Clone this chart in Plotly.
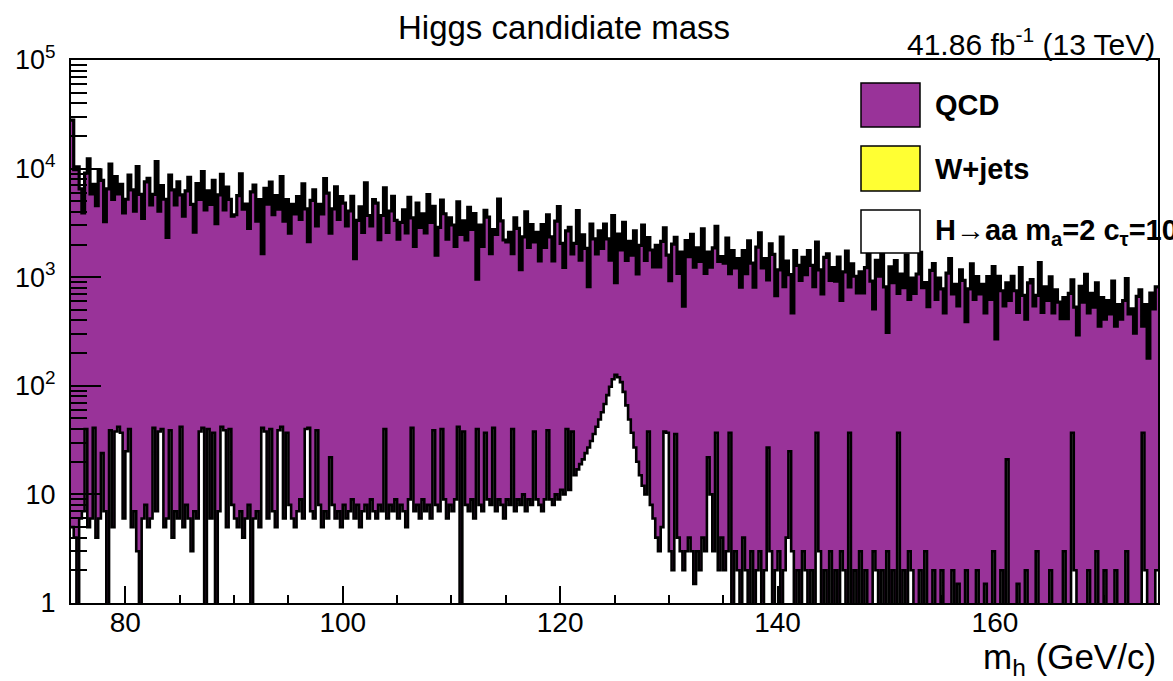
import numpy as np
import plotly.graph_objects as go

# ---------------- data ----------------
BIN_LO, BIN_HI, N_BINS = 75.0, 175.0, 400   # 0.25 GeV bins

qcd = [
    28000, 9800, 10400, 6500, 3900, 9100, 12300, 5850, 7150, 4550, 9750, 7800, 3250, 6500, 11000, 5200, 8450, 5850, 7150, 3900,
    5220, 8700, 6380, 4060, 10440, 5800, 3480, 7540, 8120, 4640, 5800, 11600, 4060, 6960, 5220, 2320, 8700, 6380, 4640, 7540,
    5720, 3640, 6240, 8320, 4680, 2600, 7280, 5200, 9360, 4160, 6240, 4680, 7800, 3120, 5720, 8840, 4160, 6760, 5200, 3640,
    3760, 5640, 8930, 4230, 4700, 2820, 6110, 7050, 3290, 5170, 1645, 6580, 4700, 7520, 3760, 5640, 4230, 8460, 3290, 5170,
    2550, 4675, 3825, 5525, 3400, 7225, 4250, 2125, 5100, 6375, 2975, 4675, 3825, 8075, 5950, 2550, 4250, 6800, 3400, 5525,
    4810, 2960, 4070, 5550, 1480, 3330, 4440, 2590, 7400, 3700, 2960, 5180, 4810, 2220, 3700, 6660, 2590, 4070, 5550, 3330,
    2240, 3200, 4160, 2560, 5440, 3520, 1920, 4800, 2880, 3840, 2560, 5760, 3200, 4480, 1600, 2880, 5120, 3840, 2240, 3520,
    3025, 1925, 4950, 2475, 3300, 2200, 4400, 2750, 3850, 960, 3025, 1925, 4125, 3575, 1650, 2750, 2475, 5225, 3300, 2200,
    2115, 2585, 1645, 3525, 2820, 1175, 2350, 3995, 1880, 3055, 2115, 2585, 1410, 3055, 1880, 3760, 2350, 1410, 3290, 4465,
    2050, 1230, 2665, 2870, 1640, 2050, 4100, 1435, 2460, 1845, 820, 3075, 2255, 1640, 2665, 1845, 3075, 2255, 1435, 3690,
    890, 2490, 1780, 3200, 1425, 2135, 1600, 2670, 1070, 1960, 3025, 1425, 2315, 1780, 1245, 1960, 1245, 2135, 2850, 1600,
    930, 2015, 2325, 1085, 1705, 540, 2170, 1550, 2480, 1240, 1860, 1395, 2790, 1085, 1705, 1240, 1860, 2945, 1395, 1550,
    1350, 2295, 1080, 1755, 1215, 1485, 810, 1755, 1080, 2160, 1350, 810, 1890, 2565, 1215, 1485, 945, 2025, 1620, 675,
    1170, 2340, 820, 1405, 1055, 470, 1755, 1285, 935, 1520, 1055, 1755, 1285, 820, 2105, 1170, 700, 1520, 1640, 935,
    1225, 920, 1530, 610, 1120, 1735, 815, 1325, 1020, 715, 1120, 715, 1225, 1630, 920, 510, 1430, 1020, 1835, 815,
    310, 1245, 890, 1425, 710, 1070, 800, 1600, 625, 980, 710, 1070, 1690, 800, 890, 535, 1155, 1335, 625, 980,
    780, 470, 1090, 1480, 700, 860, 545, 1170, 935, 390, 780, 1325, 625, 1015, 700, 860, 470, 1015, 625, 1250,
    270, 1020, 750, 545, 885, 610, 1020, 750, 475, 1225, 680, 410, 885, 950, 545, 680, 1360, 475, 815, 610,
    1005, 470, 765, 590, 415, 650, 415, 710, 945, 530, 295, 825, 590, 1060, 470, 710, 530, 885, 355, 650,
    410, 610, 460, 920, 355, 560, 410, 610, 970, 460, 510, 305, 665, 765, 355, 560, 180, 715, 510, 815,
]

signal = [
    5, 4, 0, 6, 7, 40, 5, 6, 41, 4, 6, 24, 7, 0, 39, 5, 38, 42, 37, 6,
    25, 40, 5, 7, 3, 0, 6, 8, 5, 6, 41, 7, 38, 40, 5, 6, 39, 4, 7, 6,
    42, 5, 8, 6, 3, 7, 6, 38, 41, 0, 40, 6, 37, 0, 7, 42, 39, 5, 40, 8,
    6, 5, 7, 4, 6, 8, 0, 6, 7, 5, 41, 38, 6, 40, 7, 5, 39, 42, 6, 37,
    8, 6, 5, 7, 9, 6, 40, 41, 7, 6, 39, 8, 5, 7, 6, 22, 8, 6, 7, 5,
    8, 6, 7, 9, 6, 8, 5, 7, 8, 6, 9, 7, 6, 8, 7, 40, 6, 8, 7, 9,
    6, 8, 7, 5, 9, 41, 7, 8, 6, 9, 7, 8, 6, 39, 8, 7, 40, 9, 6, 8,
    7, 9, 42, 0, 38, 8, 7, 9, 6, 40, 8, 7, 37, 9, 8, 41, 7, 9, 8, 6,
    9, 8, 40, 7, 9, 8, 10, 7, 9, 8, 38, 9,
    # 118 - 130 GeV : Higgs peak
    8, 7, 9, 39, 9, 8, 10, 9, 11, 10, 40, 11, 38, 15, 17, 19,
    21, 24, 27, 31, 36, 42, 49, 57, 68, 82, 98, 115, 126, 120, 108, 88,
    66, 49, 37, 27, 20, 15, 12, 10, 38, 8, 6, 4, 3, 5, 38, 37,
    # 130 - 175 GeV
    3, 2, 36, 4, 3, 2, 3, 4, 3, 1.5, 3, 2, 4, 3, 22, 10, 3, 37, 2, 4,
    2, 3, 37, 0, 3, 2, 0, 4, 2, 0, 3, 0, 2, 3, 0, 2, 27, 3, 0, 2,
    3, 0, 2, 4, 25, 3, 0, 2, 0, 3, 2, 0, 2, 0, 37, 3, 0, 2, 0, 3,
    0, 2, 0, 3, 2, 0, 37, 0, 2, 0, 3, 0, 2, 0, 0, 3, 2, 0, 2, 0,
    3, 0, 2, 0, 37, 0, 2, 0, 3, 2, 0, 0, 2, 0, 3, 0, 0, 2, 0, 0,
    2, 0, 0, 0, 2, 0, 1.5, 0, 0, 2, 0, 0, 0, 2, 0, 0, 1.5, 0, 0, 3,
    0, 0, 2, 0, 21, 0, 0, 0, 1.5, 0, 0, 2, 0, 0, 0, 3, 0, 0, 0, 0,
    2, 0, 0, 0, 0, 3, 0, 0, 37, 2, 0, 0, 0, 0, 2, 0, 0, 3, 0, 0,
    2, 0, 0, 0, 2, 0, 0, 0, 3, 0, 0, 0, 0, 0, 37, 2, 0, 0, 0, 2,
]

x_major = [80, 100, 120, 140, 160]
y_major = [1, 10, 100, 1000, 10000, 100000]
y_major_text = ["1", "10", "10<sup>2</sup>", "10<sup>3</sup>", "10<sup>4</sup>", "10<sup>5</sup>"]

legend_labels = ["QCD", "W+jets", "H\u2192aa m<sub>a</sub>=2 c<sub>\u03c4</sub>=10"]
legend_colors = ["#993399", "#ffff33", "#ffffff"]

assert len(qcd) == N_BINS and len(signal) == N_BINS

# ---------------- figure ----------------
FONT = "Liberation Sans, Arial, Helvetica, sans-serif"
PURPLE = "#993399"
FLOOR = 1e-3   # below the visible log range (empty bins drop to the floor)

edges = np.linspace(BIN_LO, BIN_HI, N_BINS + 1)


def step_y(vals):
    v = [max(float(a), FLOOR) for a in vals]
    return v + [v[-1]]


fig = go.Figure()
# QCD: purple filled step histogram
fig.add_trace(go.Scatter(x=[BIN_LO, BIN_HI], y=[FLOOR, FLOOR], mode="lines",
                         line=dict(width=0), hoverinfo="skip"))
fig.add_trace(go.Scatter(x=edges, y=step_y(qcd), mode="lines",
                         line=dict(color="black", width=3.2, shape="hv", simplify=False),
                         fill="tonexty", fillcolor=PURPLE, name="QCD"))
# Signal: white filled step histogram drawn on top
fig.add_trace(go.Scatter(x=[BIN_LO, BIN_HI], y=[FLOOR, FLOOR], mode="lines",
                         line=dict(width=0), hoverinfo="skip"))
fig.add_trace(go.Scatter(x=edges, y=step_y(signal), mode="lines",
                         line=dict(color="black", width=2.6, shape="hv", simplify=False),
                         fill="tonexty", fillcolor="white", name="signal"))

# plot area in pixels
L, R, T, B = 71, 1158, 60, 603
W, H = 1173, 681


def px_x(px):
    return (px - L) / (R - L)


def px_y(py):
    return (B - py) / (B - T)


fig.update_layout(
    width=W, height=H,
    margin=dict(l=L, r=W - R, t=T, b=H - B),
    paper_bgcolor="white", plot_bgcolor="white",
    showlegend=False,
    font=dict(family=FONT, color="black"),
)

fig.update_xaxes(
    range=[BIN_LO, BIN_HI], tickvals=x_major, ticktext=[str(v) for v in x_major],
    ticks="inside", ticklen=17, tickwidth=2, tickcolor="black", ticklabelstandoff=-7,
    showline=True, linewidth=2, linecolor="black", mirror=True,
    showgrid=False, zeroline=False, tickfont=dict(size=28, family=FONT),
    minor=dict(dtick=5, tick0=75, ticks="inside", ticklen=8, tickwidth=2, tickcolor="black", showgrid=False),
)
fig.update_yaxes(
    type="log", range=[0, 5], tickvals=y_major, ticktext=y_major_text,
    ticks="inside", ticklen=30, tickwidth=2, tickcolor="black", ticklabelstandoff=8,
    showline=True, linewidth=2, linecolor="black", mirror=True,
    showgrid=False, zeroline=False, tickfont=dict(size=27, family=FONT),
    minor=dict(tickvals=[m * 10 ** k for k in range(0, 5) for m in range(2, 10)],
               ticks="inside", ticklen=16, tickwidth=2, tickcolor="black", showgrid=False),
)

# legend (drawn by hand, ROOT style)
rows = [(83, 127), (146, 191), (210, 253)]
for (y0, y1), col, lab in zip(rows, legend_colors, legend_labels):
    fig.add_shape(type="rect", xref="paper", yref="paper",
                  x0=px_x(861), x1=px_x(920), y0=px_y(y1), y1=px_y(y0),
                  fillcolor=col, line=dict(color="black", width=1.5), layer="above")
    fig.add_annotation(xref="paper", yref="paper", x=px_x(933), y=px_y((y0 + y1) / 2),
                       text="<b>%s</b>" % lab, showarrow=False, xanchor="left", yanchor="middle",
                       font=dict(size=29, family=FONT, color="black"))

# titles
fig.add_annotation(xref="paper", yref="paper", x=px_x(564), y=px_y(27),
                   text="Higgs candidiate mass", showarrow=False, xanchor="center", yanchor="middle",
                   font=dict(size=33, family=FONT))
fig.add_annotation(xref="paper", yref="paper", x=px_x(1157), y=px_y(42),
                   text="41.86 fb<sup>-1</sup> (13 TeV)", showarrow=False, xanchor="right", yanchor="middle",
                   font=dict(size=30, family=FONT))
fig.add_annotation(xref="paper", yref="paper", x=px_x(1158), y=px_y(659),
                   text="m<sub>h</sub> (GeV/c)", showarrow=False, xanchor="right", yanchor="middle",
                   font=dict(size=35, family=FONT))

fig.write_html("out.html")
